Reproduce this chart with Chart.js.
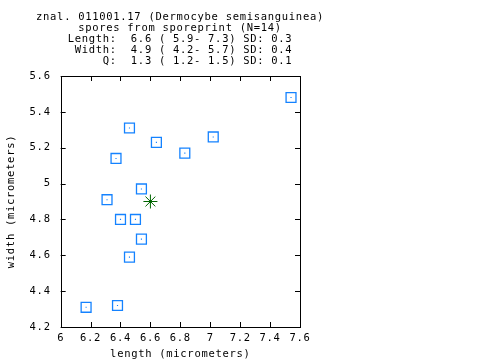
<!DOCTYPE html>
<html>
<head>
<meta charset="utf-8">
<script src="https://cdn.jsdelivr.net/npm/chart.js@4"></script>
<style>
  body { margin: 0; background: #fff; }
  #wrap { width: 480px; height: 360px; }
</style>
</head>
<body>
<div id="wrap"><canvas id="myChart" width="360" height="360"></canvas></div>
<script>
const lengths = [7.54, 6.46, 6.64, 6.37, 6.83, 7.02, 6.54, 6.31, 6.40, 6.50, 6.54, 6.46, 6.17, 6.38];
const widths  = [5.48, 5.31, 5.23, 5.14, 5.17, 5.26, 4.97, 4.91, 4.80, 4.80, 4.69, 4.59, 4.31, 4.32];
const meanLength = [6.6];
const meanWidth = [4.9];

const xTickLabels = ['6', '6.2', '6.4', '6.6', '6.8', '7', '7.2', '7.4', '7.6'];
const yTickLabels = ['4.2', '4.4', '4.6', '4.8', '5', '5.2', '5.4', '5.6'];

const titleLines = [
    'znal. 011001.17 (Dermocybe semisanguinea)',
    'spores from sporeprint (N=14)',
    'Length:  6.6 ( 5.9- 7.3) SD: 0.3',
    ' Width:  4.9 ( 4.2- 5.7) SD: 0.4',
    '     Q:  1.3 ( 1.2- 1.5) SD: 0.1'
];

const FONT = 'DejaVu Sans Mono';
const FSIZE = 10.5;

const spores = lengths.map((l, i) => ({ x: l, y: widths[i] }));
const mean = meanLength.map((l, i) => ({ x: l, y: meanWidth[i] }));

// wider letter spacing, closer to the old bitmap font
// (set again before layout and draw, the canvas resize wipes it)
const spacing = {
    id: 'spacing',
    beforeUpdate(chart) { chart.ctx.letterSpacing = '0.7px'; },
    beforeDraw(chart) { chart.ctx.letterSpacing = '0.7px'; }
};

// box round the plot, with gnuplot style ticks pointing inwards on all four sides
const frame = {
    id: 'frame',
    afterDraw(chart) {
        const ctx = chart.ctx;
        const a = chart.chartArea;
        const xs = chart.scales.x;
        const ys = chart.scales.y;
        ctx.save();
        ctx.strokeStyle = '#000';
        ctx.lineWidth = 1;
        ctx.beginPath();
        xs.ticks.forEach(t => {
            const px = Math.round(xs.getPixelForValue(t.value)) + 0.5;
            ctx.moveTo(px, a.bottom); ctx.lineTo(px, a.bottom - 5);
            ctx.moveTo(px, a.top); ctx.lineTo(px, a.top + 5);
        });
        ys.ticks.forEach(t => {
            const py = Math.round(ys.getPixelForValue(t.value)) + 0.5;
            ctx.moveTo(a.left, py); ctx.lineTo(a.left + 5, py);
            ctx.moveTo(a.right, py); ctx.lineTo(a.right - 5, py);
        });
        ctx.stroke();
        ctx.strokeRect(Math.round(a.left) + 0.5, Math.round(a.top) + 0.5,
            Math.round(a.right - a.left), Math.round(a.bottom - a.top));
        ctx.restore();
    }
};

const ctx = document.getElementById('myChart').getContext('2d');
new Chart(ctx, {
    type: 'scatter',
    data: {
        datasets: [
            {
                data: spores,
                pointStyle: 'rect',
                radius: 7,
                borderColor: '#1482ff',
                backgroundColor: 'rgba(0,0,0,0)',
                borderWidth: 1.3
            },
            {
                data: spores,
                pointStyle: 'rect',
                radius: 0.8,
                borderWidth: 0,
                backgroundColor: '#1482ff'
            },
            {
                data: mean,
                pointStyle: 'star',
                radius: 7,
                borderColor: '#006400',
                borderWidth: 1
            },
            {
                data: mean,
                pointStyle: 'circle',
                radius: 1.5,
                borderWidth: 0,
                backgroundColor: '#006400'
            }
        ]
    },
    options: {
        responsive: false,
        animation: false,
        layout: { padding: 0 },
        plugins: {
            legend: { display: false },
            tooltip: { enabled: false },
            title: {
                display: true,
                text: titleLines,
                color: '#000',
                font: { family: FONT, size: FSIZE, weight: 'normal', lineHeight: '11px' },
                padding: { top: 11.5, bottom: 9.5 }
            }
        },
        scales: {
            x: {
                type: 'linear',
                min: 6,
                max: 7.6,
                grid: { display: false, drawTicks: false, tickLength: 0 },
                border: { display: false },
                ticks: {
                    stepSize: 0.2,
                    color: '#000',
                    padding: 6,
                    maxRotation: 0,
                    font: { family: FONT, size: FSIZE, lineHeight: 1 },
                    callback: (v, i) => xTickLabels[i]
                },
                title: {
                    display: true,
                    text: 'length (micrometers)',
                    color: '#000',
                    font: { family: FONT, size: FSIZE, lineHeight: 1 },
                    padding: { top: 0, bottom: 0 }
                }
            },
            y: {
                type: 'linear',
                min: 4.2,
                max: 5.6,
                grid: { display: false, drawTicks: false, tickLength: 0 },
                border: { display: false },
                ticks: {
                    stepSize: 0.2,
                    color: '#000',
                    padding: 10,
                    font: { family: FONT, size: FSIZE },
                    callback: (v, i) => yTickLabels[i]
                },
                title: {
                    display: true,
                    text: 'width (micrometers)',
                    color: '#000',
                    font: { family: FONT, size: FSIZE },
                    padding: { top: 5, bottom: 2 }
                }
            },
            // empty margin on the right so the title stays centred over the plot
            spare: {
                type: 'linear',
                position: 'right',
                grid: { display: false, drawTicks: false },
                border: { display: false },
                ticks: { display: false },
                afterFit: (scale) => { scale.width = 60; }
            }
        }
    },
    plugins: [spacing, frame]
});
</script>
</body>
</html>
